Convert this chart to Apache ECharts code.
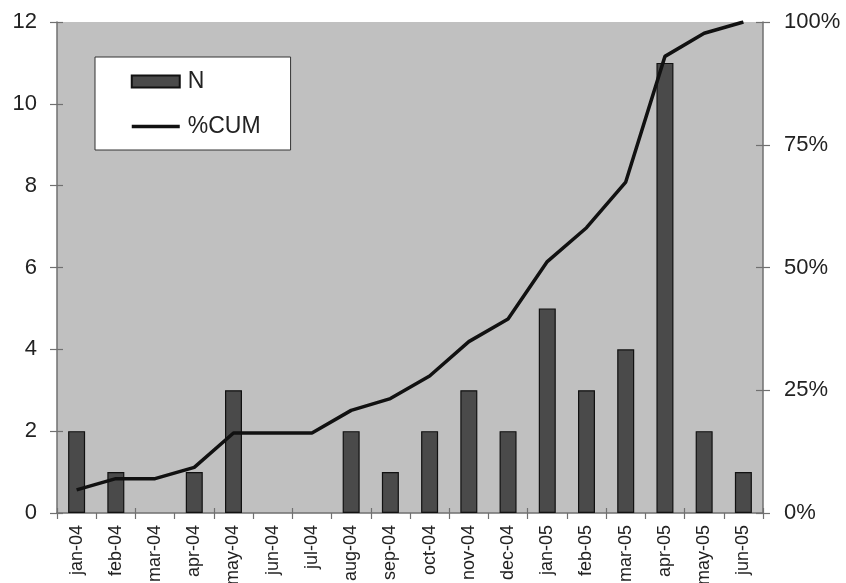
<!DOCTYPE html>
<html><head><meta charset="utf-8">
<script src="https://cdn.jsdelivr.net/npm/echarts@6/dist/echarts.min.js"></script>
<style>html,body{margin:0;padding:0;background:#fff}#c{width:846px;height:583px}</style>
</head><body><div id="c"></div>
<script>
var months = ['jan-04','feb-04','mar-04','apr-04','may-04','jun-04','jul-04','aug-04','sep-04','oct-04','nov-04','dec-04','jan-05','feb-05','mar-05','apr-05','may-05','jun-05'];
var nValues = [2,1,0,1,3,0,0,2,1,2,3,2,5,3,4,11,2,1];
var cumPct = [4.7,7.0,7.0,9.3,16.3,16.3,16.3,20.9,23.3,27.9,34.9,39.5,51.2,58.1,67.4,93.0,97.7,100];
var leftTicks = [0,2,4,6,8,10,12];
var rightTicks = ['0%','25%','50%','75%','100%'];

var FONT = 'Liberation Sans, Arial, Helvetica, sans-serif';
var AX = '#707070';
var gridRect = {left:57, right:83, top:22, bottom:70, outerBoundsMode:'none', containLabel:false};
var chart = echarts.init(document.getElementById('c'));
chart.setOption({
  animation:false,
  backgroundColor:'#fff',
  grid:[
    Object.assign({show:true, backgroundColor:'#c0c0c0', borderWidth:0}, gridRect),
    Object.assign({show:false}, gridRect)
  ],
  legend:{
    left:95, top:57, orient:'vertical',
    backgroundColor:'#fff', borderColor:'#333', borderWidth:1, borderRadius:0,
    padding:[13,30,12,35], itemGap:22, itemWidth:48, itemHeight:12,
    textStyle:{fontFamily:FONT, fontSize:23, color:'#222', padding:[0,0,0,3]},
    data:[{name:'N', icon:'rect'}, {name:'%CUM', itemStyle:{opacity:0}, lineStyle:{width:3.5, color:'#111'}}]
  },
  xAxis:[
    {type:'category', data:months, gridIndex:0, boundaryGap:true,
     axisLine:{show:true, lineStyle:{color:AX, width:1.5}},
     axisTick:{show:true, length:6, lineStyle:{color:AX, width:1.2}},
     axisLabel:{rotate:90, fontFamily:FONT, fontSize:18, color:'#222', margin:12, interval:0},
     splitLine:{show:false}},
    {type:'category', data:months, gridIndex:1, boundaryGap:true,
     axisLine:{show:false}, axisTick:{show:true, inside:true, length:5, lineStyle:{color:AX, width:1.2}},
     axisLabel:{show:false}, splitLine:{show:false}}
  ],
  yAxis:[
    {type:'value', gridIndex:0, position:'left', min:leftTicks[0], max:leftTicks[leftTicks.length-1], interval:2,
     axisLine:{show:true, lineStyle:{color:AX, width:1.5}},
     axisTick:{show:true, length:7, lineStyle:{color:AX, width:1.2}},
     axisLabel:{fontFamily:FONT, fontSize:22, color:'#222', margin:20},
     splitLine:{show:false}},
    {type:'value', gridIndex:0, position:'right', min:0, max:100, interval:25,
     axisLine:{show:true, lineStyle:{color:AX, width:1.5}},
     axisTick:{show:true, length:7, lineStyle:{color:AX, width:1.2}},
     axisLabel:{fontFamily:FONT, fontSize:22, color:'#222', margin:21,
       formatter:function(v){return rightTicks[Math.round(v/25)];}},
     splitLine:{show:false}},
    {type:'value', gridIndex:1, position:'left', min:0, max:12, interval:2,
     axisLine:{show:false}, axisTick:{show:true, inside:true, length:6, lineStyle:{color:AX, width:1.2}},
     axisLabel:{show:false}, splitLine:{show:false}},
    {type:'value', gridIndex:1, position:'right', min:0, max:100, interval:25,
     axisLine:{show:false}, axisTick:{show:true, inside:true, length:7, lineStyle:{color:AX, width:1.2}},
     axisLabel:{show:false}, splitLine:{show:false}}
  ],
  series:[
    {name:'N', type:'bar', xAxisIndex:0, yAxisIndex:0, barWidth:17,
     data:nValues.map(function(v){return v === 0 ? null : v;}),
     itemStyle:{color:'#4a4a4a', borderColor:'#111', borderWidth:1.2}},
    {name:'%CUM', type:'line', xAxisIndex:0, yAxisIndex:1, data:cumPct, symbol:'none', showSymbol:false,
     lineStyle:{color:'#111', width:3.5}, itemStyle:{color:'#111'}}
  ]
});
</script></body></html>
